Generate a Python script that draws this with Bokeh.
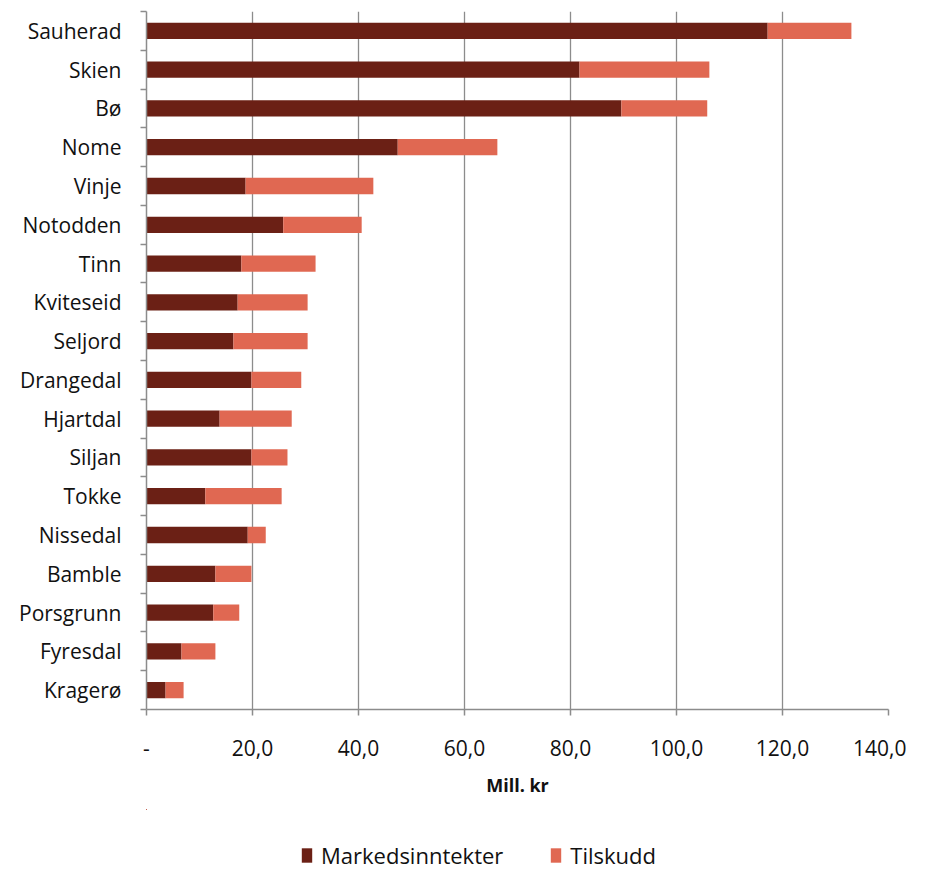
from bokeh.plotting import figure
from bokeh.layouts import column
from bokeh.models import Range1d, FixedTicker, Legend, LegendItem, ColumnDataSource
from bokeh.embed import file_html
from bokeh.resources import INLINE

kommuner = ["Sauherad", "Skien", "Bø", "Nome", "Vinje", "Notodden", "Tinn", "Kviteseid",
            "Seljord", "Drangedal", "Hjartdal", "Siljan", "Tokke", "Nissedal", "Bamble",
            "Porsgrunn", "Fyresdal", "Kragerø"]
markedsinntekter = [117.2, 81.7, 89.6, 47.4, 18.7, 25.8, 17.9, 17.2, 16.4, 19.8, 13.8,
                    19.8, 11.1, 19.1, 13.0, 12.6, 6.6, 3.6]
tilskudd = [15.8, 24.5, 16.2, 18.8, 24.1, 14.8, 14.0, 13.2, 14.0, 9.4, 13.6,
            6.8, 14.4, 3.4, 6.8, 4.9, 6.4, 3.4]
x_ticks = [0, 20, 40, 60, 80, 100, 120, 140]
x_tick_labels = ["-", "20,0", "40,0", "60,0", "80,0", "100,0", "120,0", "140,0"]
series_names = ["Markedsinntekter", "Tilskudd"]

DARK = "#6B2015"
LIGHT = "#E06852"
FONT = "Open Sans"

pos = list(range(len(kommuner)))
total = [m + t for m, t in zip(markedsinntekter, tilskudd)]
src = ColumnDataSource(dict(y=pos, m=markedsinntekter, t=tilskudd, tot=total))

p = figure(frame_width=742, frame_height=698, output_backend="svg", toolbar_location=None,
           x_range=Range1d(0, 140), y_range=Range1d(len(kommuner) - 0.5, -0.5),
           min_border_left=146, min_border_top=11, min_border_right=18, min_border_bottom=100)

r1 = p.hbar(y="y", left=0, right="m", height=0.42, source=src, fill_color=DARK, line_color=None)
r2 = p.hbar(y="y", left="m", right="tot", height=0.42, source=src, fill_color=LIGHT, line_color=None)

p.outline_line_color = None
p.ygrid.grid_line_color = None
p.xgrid.grid_line_color = "#8c8c8c"
p.xgrid.grid_line_width = 1.3
p.xgrid.ticker = FixedTicker(ticks=x_ticks)

xa = p.xaxis[0]
xa.ticker = FixedTicker(ticks=x_ticks)
xa.major_label_overrides = {t: l for t, l in zip(x_ticks, x_tick_labels)}
xa.axis_line_color = "#8c8c8c"
xa.axis_line_width = 1.5
xa.major_tick_line_color = "#8c8c8c"
xa.major_tick_line_width = 1.5
xa.major_tick_out = 6
xa.major_tick_in = 0
xa.minor_tick_line_color = None
xa.major_label_standoff = 24
xa.major_label_text_font = FONT
xa.major_label_text_font_size = "21px"
xa.major_label_text_color = "#111111"
xa.axis_label = "Mill. kr"
xa.axis_label_text_font = FONT
xa.axis_label_text_font_size = "18px"
xa.axis_label_text_font_style = "bold"
xa.axis_label_text_color = "#111111"
xa.axis_label_standoff = 14

ya = p.yaxis[0]
boundaries = [i - 0.5 for i in range(len(kommuner) + 1)]
ya.ticker = FixedTicker(ticks=pos, minor_ticks=boundaries)
ya.major_label_overrides = {i: k for i, k in zip(pos, kommuner)}
ya.axis_line_color = "#8c8c8c"
ya.axis_line_width = 1.5
ya.major_tick_line_color = None
ya.major_tick_out = 0
ya.major_tick_in = 0
ya.minor_tick_line_color = "#8c8c8c"
ya.minor_tick_line_width = 1.5
ya.minor_tick_out = 6
ya.minor_tick_in = 0
ya.major_label_standoff = 19
ya.major_label_text_font = FONT
ya.major_label_text_font_size = "21px"
ya.major_label_text_color = "#111111"

# legend-only strip below the chart (its bars lie outside its view; only the swatches show)
leg = figure(width=906, height=63, output_backend="svg", toolbar_location=None,
             x_range=Range1d(5000, 5001), y_range=Range1d(-100, -99),
             x_axis_type=None, y_axis_type=None,
             min_border_left=0, min_border_right=0, min_border_top=0, min_border_bottom=0)
leg.outline_line_color = None
leg.grid.visible = False
lr1 = leg.hbar(y="y", left=0, right="m", height=0.42, source=src, fill_color=DARK, line_color=None)
lr2 = leg.hbar(y="y", left="m", right="tot", height=0.42, source=src, fill_color=LIGHT, line_color=None)

legend = Legend(items=[LegendItem(label=series_names[0], renderers=[lr1]),
                       LegendItem(label=series_names[1], renderers=[lr2])],
                orientation="horizontal", location=(154, 2),
                label_text_font=FONT, label_text_font_size="22px", label_text_color="#111111",
                glyph_width=13, glyph_height=18, spacing=46, label_standoff=8,
                border_line_color=None, background_fill_alpha=0,
                margin=0, padding=4)
leg.add_layout(legend, "center")

layout = column(p, leg, spacing=0)
open("out.html", "w").write(file_html(layout, INLINE))
